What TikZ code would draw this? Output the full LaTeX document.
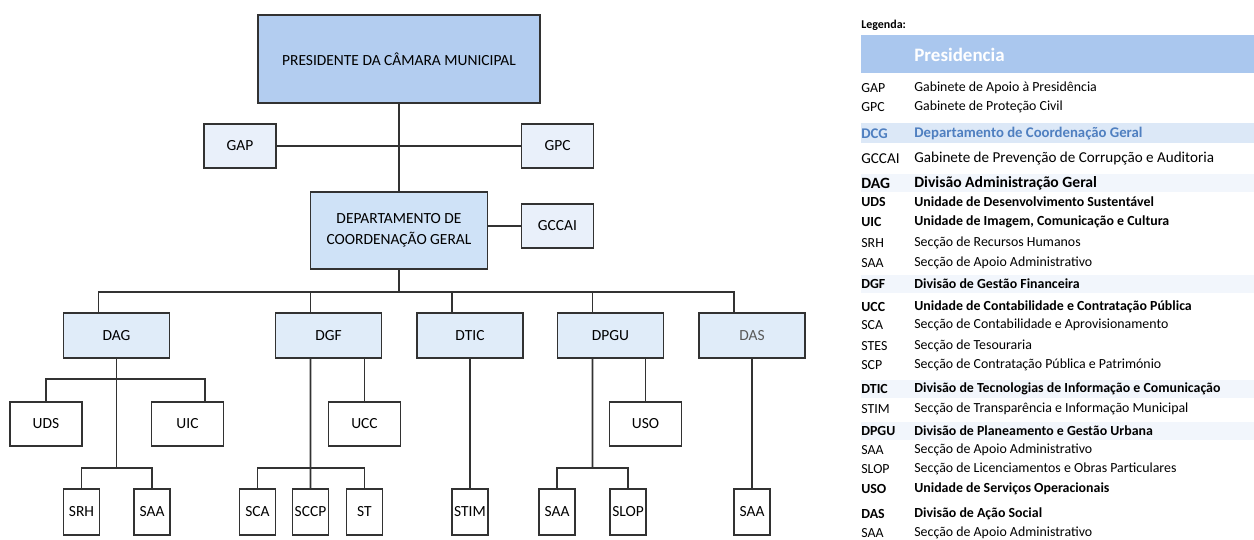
\documentclass[tikz,border=0pt]{standalone}
\usepackage{fontspec}
\setmainfont{Carlito}

\definecolor{presblue}{RGB}{179,205,240}
\definecolor{dcgblue}{RGB}{207,226,247}
\definecolor{divblue}{RGB}{224,236,249}
\definecolor{gabblue}{RGB}{233,240,250}
\definecolor{lineg}{RGB}{50,50,50}
\definecolor{bandblue}{RGB}{170,199,238}
\definecolor{bandlight}{RGB}{220,232,247}
\definecolor{bandfaint}{RGB}{242,246,252}
\definecolor{dcgtext}{RGB}{79,127,192}

\tikzset{
  box/.style={draw=lineg, line width=1pt, inner sep=0pt, align=center,
    font=\fontsize{8.8}{12}\selectfont},
  gab/.style={box, fill=gabblue, minimum width=1.44cm, minimum height=0.88cm},
  div/.style={box, fill=divblue, minimum width=2.12cm, minimum height=0.9cm},
  unit/.style={box, fill=white, minimum width=1.44cm, minimum height=0.88cm},
  sec/.style={box, fill=white, minimum width=0.72cm, minimum height=0.92cm},
  lg/.style={anchor=west, inner sep=0pt, font=\fontsize{7.9}{9}\selectfont},
  lgb/.style={lg, font=\fontsize{7.9}{9}\selectfont\bfseries},
  wire/.style={draw=lineg, line width=1pt}
}

\begin{document}
\begin{tikzpicture}[x=0.02cm,y=-0.02cm]
        \useasboundingbox (0,0) rectangle (1254,540);
        %
        \node[box, fill=presblue, minimum width=5.64cm, minimum height=1.76cm] (pres) at (399,59) {PRESIDENTE DA CÂMARA MUNICIPAL};
        \node[gab] (gap) at (240,146) {GAP};
        \node[gab] (gpc) at (557.5,146) {GPC};
        \node[box, fill=dcgblue, minimum width=3.54cm, minimum height=1.54cm] (dcg) at (399,230.5) {DEPARTAMENTO DE\\COORDENAÇÃO GERAL};
        \node[gab] (gccai) at (557.5,226) {GCCAI};
        %
        \node[div] (dag) at (116.5,335.5) {DAG};
        \node[div] (dgf) at (328.5,335.5) {DGF};
        \node[div] (dtic) at (470,335.5) {DTIC};
        \node[div] (dpgu) at (610.5,335.5) {DPGU};
        \node[div, text=black!65] (das) at (752,335.5) {DAS};
        %
        \node[unit] (uds) at (46,424) {UDS};
        \node[unit] (uic) at (187.5,424) {UIC};
        \node[unit] (ucc) at (364.5,424) {UCC};
        \node[unit] (uso) at (645.5,424) {USO};
        %
        \node[sec] (srh) at (81.5,512) {SRH};
        \node[sec] (saaa) at (152,512) {SAA};
        \node[sec] (sca) at (257.5,512) {SCA};
        \node[sec] (sccp) at (310.5,512) {SCCP};
        \node[sec] (st) at (364.5,512) {ST};
        \node[sec] (stim) at (470,512) {STIM};
        \node[sec] (saab) at (557,512) {SAA};
        \node[sec] (slop) at (628,512) {SLOP};
        \node[sec] (saac) at (752,512) {SAA};
        %
        \coordinate (bus) at (399,292);
        \coordinate (dagmid) at (116.5,379);
        \coordinate (dagbot) at (116.5,468);
        \coordinate (dgfbot) at (310.5,468);
        \coordinate (dpgubot) at (592.5,468);
        %
        \draw[wire] (pres) -- (dcg);
        \draw[wire] (gap) -- (gpc);
        \draw[wire] (dcg.east |- gccai) -- (gccai);
        \draw[wire] (dcg) -- (bus);
        \foreach \n in {dag,dgf,dtic,dpgu,das}
          \draw[wire] (bus) -| ([xshift=-0.36cm]\n.north);
        %
        \draw[wire] (dag) -- (dagbot);
        \draw[wire] (uds.north) |- (dagmid) -| ([xshift=0.35cm]uic.north);
        \draw[wire] (srh.north) |- (dagbot) -| (saaa.north);
        %
        \draw[wire] ([xshift=-0.36cm]dgf.south) -- (sccp);
        \draw[wire] (sca.north) |- (dgfbot) -| (st.north);
        \draw[wire] (ucc) -- (ucc |- dgf.south);
        %
        \draw[wire] (dtic) -- (stim);
        %
        \draw[wire] ([xshift=-0.36cm]dpgu.south) -- (dpgubot);
        \draw[wire] (saab.north) |- (dpgubot) -| (slop.north);
        \draw[wire] (uso) -- (uso |- dpgu.south);
        %
        \draw[wire] (das) -- (saac);
        %
        % legenda
        \node[anchor=west, inner sep=0pt, font=\fontsize{6.8}{8}\selectfont\bfseries] (leg) at (861,25) {Legenda:};
        \fill[bandblue] (861,35) rectangle (1254,73);
        \node[anchor=west, inner sep=0pt, text=white, font=\fontsize{10.8}{12}\selectfont\bfseries] (presl) at (914,55) {Presidencia};
        \fill[bandlight] (861,123) rectangle (1254,143);
        \foreach \y in {174,275,380,422}
          \fill[bandfaint] (861,\y) rectangle (1254,\y+18);
        %
        \foreach \y/\ab/\nm in {88/GAP/Gabinete de Apoio à Presidência,
            107/GPC/Gabinete de Proteção Civil,
            243/SRH/Secção de Recursos Humanos,
            263/SAA/Secção de Apoio Administrativo,
            325/SCA/Secção de Contabilidade e Aprovisionamento,
            346/STES/Secção de Tesouraria,
            365/SCP/Secção de Contratação Pública e Património,
            409/STIM/Secção de Transparência e Informação Municipal,
            450/SAA/Secção de Apoio Administrativo,
            469/SLOP/Secção de Licenciamentos e Obras Particulares,
            533/SAA/Secção de Apoio Administrativo}
          {\node[lg] (a\y) at (861,\y) {\ab};
           \node[lg] (n\y) at (914,\y) {\nm};}
        %
        \foreach \y/\ab/\nm in {202/UDS/Unidade de Desenvolvimento Sustentável,
            222/UIC/{Unidade de Imagem, Comunicação e Cultura},
            284/DGF/Divisão de Gestão Financeira,
            307/UCC/Unidade de Contabilidade e Contratação Pública,
            389/DTIC/Divisão de Tecnologias de Informação e Comunicação,
            431/DPGU/Divisão de Planeamento e Gestão Urbana,
            489/USO/Unidade de Serviços Operacionais,
            514/DAS/Divisão de Ação Social}
          {\node[lgb] (a\y) at (861,\y) {\ab};
           \node[lgb] (n\y) at (914,\y) {\nm};}
        %
        \node[lgb, text=dcgtext, font=\fontsize{8.4}{9}\selectfont\bfseries] (a134) at (861,134) {DCG};
        \node[lgb, text=dcgtext, font=\fontsize{8.4}{9}\selectfont\bfseries] (n134) at (914,134) {Departamento de Coordenação Geral};
        \node[lg, font=\fontsize{8.6}{10}\selectfont] (a159) at (861,159) {GCCAI};
        \node[lg, font=\fontsize{8.6}{10}\selectfont] (n159) at (914,159) {Gabinete de Prevenção de Corrupção e Auditoria};
        \node[lgb, font=\fontsize{8.9}{10}\selectfont\bfseries] (a183) at (861,183) {DAG};
        \node[lgb, font=\fontsize{8.9}{10}\selectfont\bfseries] (n183) at (914,183) {Divisão Administração Geral};
\end{tikzpicture}
\end{document}
